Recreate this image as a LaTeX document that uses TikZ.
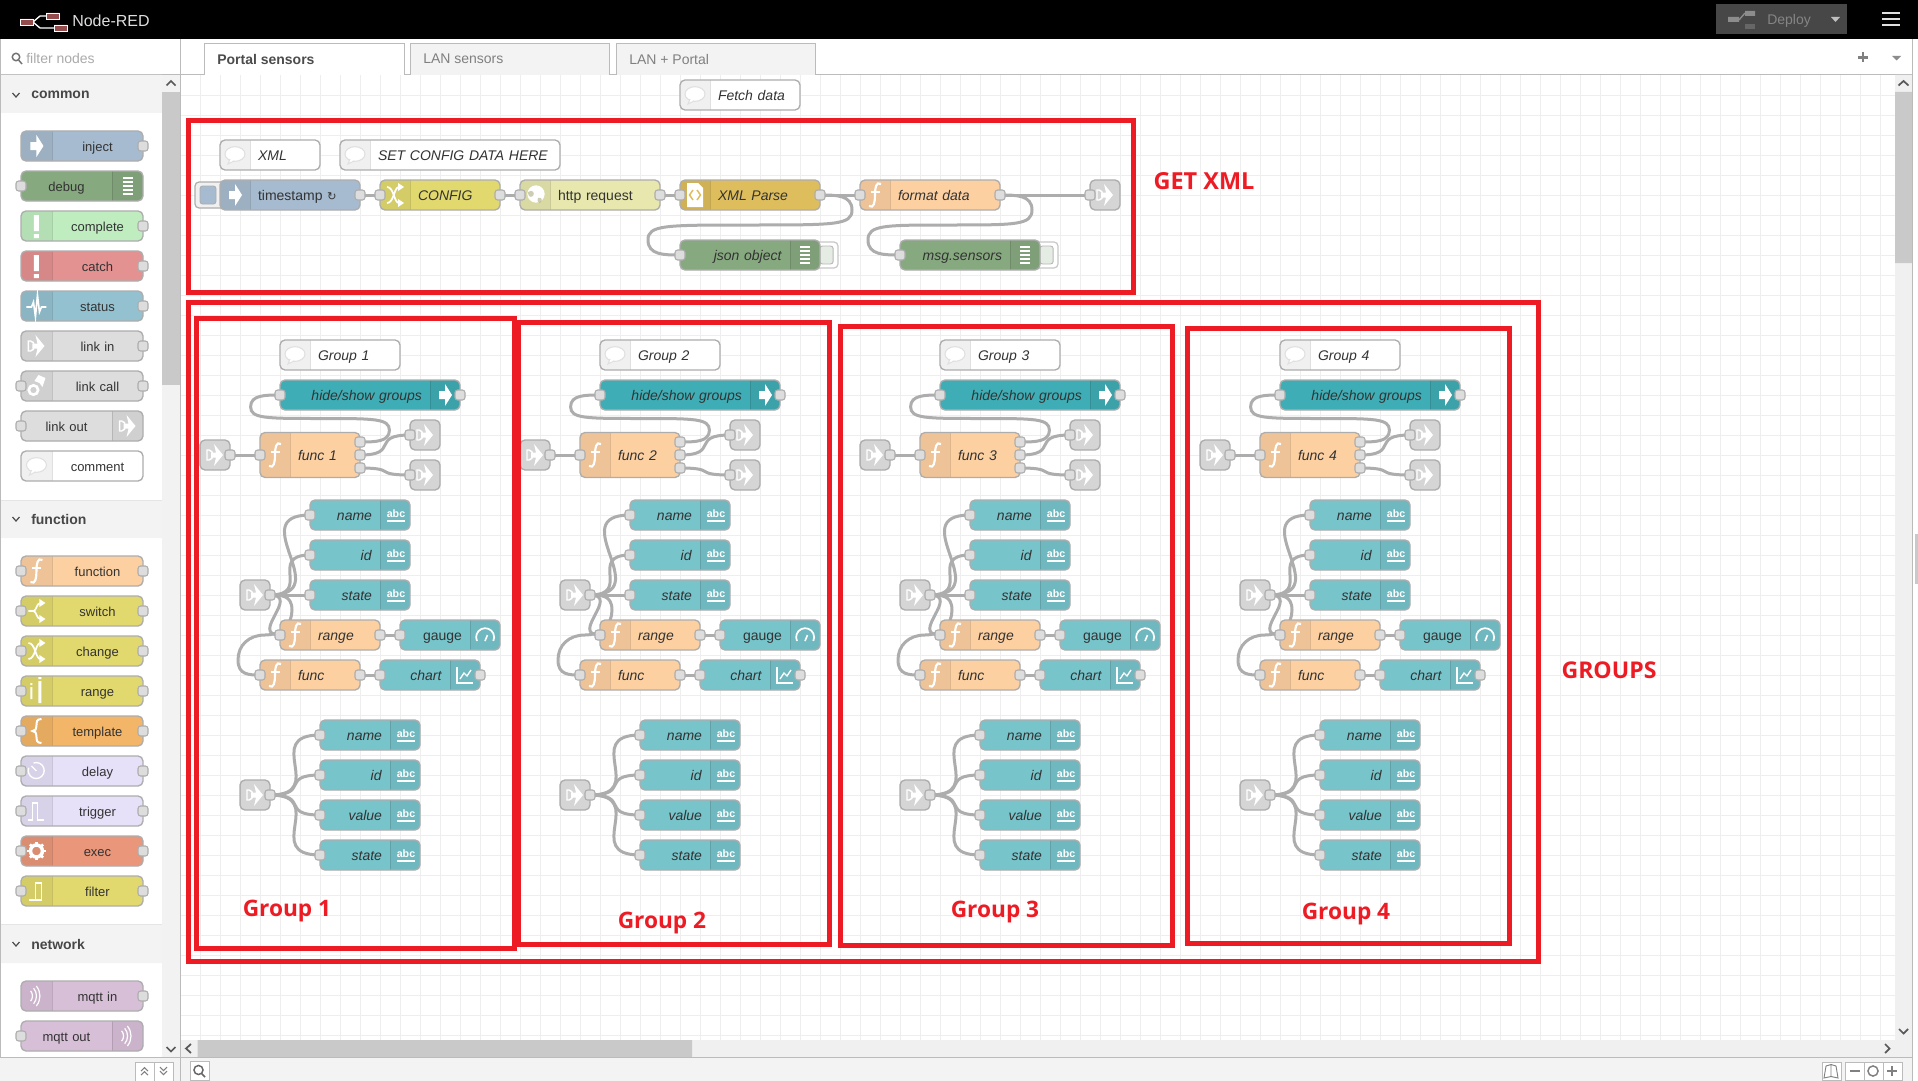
\documentclass[tikz,border=0pt]{standalone}
\usepackage{fontspec}
\setmainfont{Liberation Sans}
\newfontfamily\labelfont{Open Sans}
\newfontfamily\symfont{DejaVu Sans}
\usetikzlibrary{calc,positioning}

\definecolor{cLine}{HTML}{ADADAD}
\definecolor{cText}{HTML}{333333}
\definecolor{cGrid}{HTML}{EEEEEE}
\definecolor{cPanel}{HTML}{F3F3F3}
\definecolor{cBar}{HTML}{C9C9C9}
\definecolor{cBorder}{HTML}{BBBBBB}
\definecolor{cRed}{HTML}{ED1C24}
\definecolor{cInject}{HTML}{A6BBCF}
\definecolor{cDebug}{HTML}{87A980}
\definecolor{cComplete}{HTML}{C0EDC0}
\definecolor{cCatch}{HTML}{E49191}
\definecolor{cStatus}{HTML}{94C1D0}
\definecolor{cLink}{HTML}{DDDDDD}
\definecolor{cLinkB}{HTML}{D5D5D5}
\definecolor{cFunc}{HTML}{FDD0A2}
\definecolor{cChange}{HTML}{E2D96E}
\definecolor{cTemplate}{HTML}{F3B567}
\definecolor{cDelay}{HTML}{E6E0F8}
\definecolor{cExec}{HTML}{E9967A}
\definecolor{cMqtt}{HTML}{D8BFD8}
\definecolor{cHttp}{HTML}{E7E7AE}
\definecolor{cXml}{HTML}{DEBD5C}
\definecolor{cUiText}{HTML}{77C4CB}
\definecolor{cUiCtrl}{HTML}{3FADB5}

\pgfdeclarelayer{gridlayer}
\pgfdeclarelayer{wirelayer}
\pgfsetlayers{gridlayer,wirelayer,main}

\tikzset{
  nrbody/.style={draw=cLine,line width=1pt,rounded corners=3.75pt,minimum height=22.5pt,
    inner sep=0pt,outer sep=0pt,text=cText,text height=8.5pt,text depth=0pt,
    font=\fontsize{10.5}{12}\selectfont},
  palbody/.style={nrbody,font=\fontsize{9.75}{12}\selectfont},
  bandL/.style={path picture={
    \fill[black,fill opacity=.06,sharp corners] (path picture bounding box.north west) rectangle ([xshift=#1]path picture bounding box.south west);
    \draw[black,opacity=.12,line width=.75pt,sharp corners] ([xshift=#1]path picture bounding box.north west) -- ([xshift=#1]path picture bounding box.south west);}},
  bandR/.style={path picture={
    \fill[black,fill opacity=.06,sharp corners] (path picture bounding box.north east) rectangle ([xshift=-#1]path picture bounding box.south east);
    \draw[black,opacity=.12,line width=.75pt,sharp corners] ([xshift=-#1]path picture bounding box.north east) -- ([xshift=-#1]path picture bounding box.south east);}},
  port/.style={draw=cLine,fill=cLink,line width=.8pt,rounded corners=2pt,minimum width=7.5pt,minimum height=7.5pt,inner sep=0pt,outer sep=0pt},
  wireln/.style={draw=cLine,line width=2.25pt},
  redbox/.style={draw=cRed,line width=3.75pt},
  redtext/.style={text=cRed,inner sep=0pt,font=\labelfont\bfseries\fontsize{#1}{20}\selectfont},
  chrome/.style={inner sep=0pt,anchor=west,font=\fontsize{10.5}{12}\selectfont},
  chev/.style={draw=#1,line width=1.3pt},
  chev/.default={black!65},
  btnbox/.style={draw=cBorder,fill=white,line width=.75pt},
  ico/.style={white,line width=1.2pt},
  ico arrow/.pic={\fill[white] (-6,-4)--(0,-4)--(0,-11)--(7,0)--(0,11)--(0,4)--(-6,4)--cycle;},
  ico link/.pic={
    \draw[ico,line width=1.1pt] (-8,-5)--(-6,-5) .. controls (-1,-5) and (-1,5) .. (-6,5)--(-8,5)--cycle;
    \fill[white] (-1,-11)--(8,0)--(-1,11)--(1,2.5)--(-4,2.5)--(-4,-2.5)--(1,-2.5)--cycle;},
  ico func/.pic={
    \draw[ico,line width=1.6pt] (6,-11) .. controls (1,-14) and (0,-7) .. (0,0) .. controls (0,7) and (-1,14) .. (-6,11);
    \draw[ico,line width=1.2pt] (-4,-3)--(5,-3);},
  ico bubble/.pic={
    \filldraw[draw=black!12,fill=white,line width=.8pt] (0,-1) ellipse [x radius=7.5pt,y radius=5.5pt];
    \filldraw[draw=black!12,fill=white,line width=.8pt] (-5,4)--(-7,9)--(-1,6);},
  ico shuffle/.pic={
    \draw[ico,line width=1.3pt] (-8,-8) .. controls (-1,-8) and (-1,8) .. (4,8);
    \draw[ico,line width=1.3pt] (-8,8) .. controls (-1,8) and (-1,-8) .. (4,-8);
    \fill[white] (3,-12)--(9,-8)--(3,-4)--cycle (3,4)--(9,8)--(3,12)--cycle;},
  ico split/.pic={
    \draw[ico,line width=1.3pt] (-8,0)--(-3,0) .. controls (0,0) and (0,-8) .. (4,-8);
    \draw[ico,line width=1.3pt] (-3,0) .. controls (0,0) and (0,8) .. (4,8);
    \fill[white] (3,-12)--(9,-8)--(3,-4)--cycle (3,4)--(9,8)--(3,12)--cycle;},
  ico globe/.pic={
    \fill[white] (1,-1) circle [radius=6.5pt];
    \fill[cHttp!75!black,opacity=.6] (-7,-3) .. controls (-2,-6) and (0,-2) .. (-2,1) .. controls (-5,3) and (-7,1) .. (-7,-3);
    \fill[cHttp!75!black,opacity=.6] (3,3) .. controls (7,2) and (8,5) .. (5,8) .. controls (3,8) and (2,6) .. (3,3);},
  ico xml/.pic={
    \fill[white] (-8,-12)--(3,-12)--(8,-7)--(8,12)--(-8,12)--cycle;
    \draw[cXml,line width=1.1pt] (-2,-5)--(-5.5,0)--(-2,5) (2,-5)--(5.5,0)--(2,5);},
  ico list/.pic={\foreach \ly in {-8,-4,0,4,8} \draw[white,line width=1pt] (-5,\ly)--(5,\ly);},
  ico abc/.pic={
    \node[text=white,inner sep=0pt,text height=5.8pt,text depth=0pt,font=\bfseries\fontsize{8}{8}\selectfont] (-abc) at (1,-1.5) {abc};
    \draw[white,line width=1.1pt] (-8,6)--(10,6);},
  ico gauge/.pic={
    \draw[ico,line width=1.3pt] (-8,6) arc [start angle=205,end angle=-25,radius=6.75pt];
    \draw[ico] (0,6)--(2.5,0);},
  ico chart/.pic={
    \draw[ico,line width=.9pt] (-8,-8)--(-8,8)--(8,8);
    \draw[ico,line width=1pt] (-5,4)--(-1,-2)--(2,1)--(6,-5);},
  ico bang/.pic={\fill[white] (-2.5,-11) rectangle (2.5,5) (-2.5,8) rectangle (2.5,12);},
  ico pulse/.pic={\draw[ico] (-10,1)--(-5,1)--(-3,-4)--(-1,11)--(1,-11)--(3,6)--(5,1)--(10,1);},
  ico call/.pic={
    \fill[white] (2,-11)--(9,-8)--(6,1)--(3,-3)--(-2,-5)--cycle;
    \draw[ico,line width=2pt] (-3,4) circle [radius=3.5pt];},
  ico brace/.pic={
    \draw[ico,line width=1.5pt] (5,-12) .. controls (0,-12) and (0,-9) .. (0,-5) .. controls (0,-2) and (-1,0) .. (-4,0) .. controls (-1,0) and (0,2) .. (0,5) .. controls (0,9) and (0,12) .. (5,12);},
  ico clock/.pic={
    \draw[ico,line width=1pt] (-3,-8) arc [start angle=110,end angle=-200,radius=6pt];
    \draw[ico,line width=1pt] (0,0)--(-5,-5);},
  ico pulsebox/.pic={
    \draw[ico,line width=1.4pt] (-8,9)--(-4,9)--(-4,-8)--(1,-8)--(1,9)--(8,9);},
  ico gear/.pic={
    \draw[white,line width=2.6pt] (0,0) circle [radius=4.5pt];
    \foreach \ga in {0,45,...,315} \draw[white,line width=2pt] (\ga:5pt)--(\ga:7pt);},
  ico step/.pic={
    \draw[ico,line width=1.1pt] (-7,9)--(-1,9)--(-1,-8)--(5,-8)--(5,9)--(-1,9);},
  ico ij/.pic={
    \fill[white] (-6,-4) rectangle (-4,8) (-6,-8) rectangle (-4,-6);
    \fill[white] (2,-10) rectangle (5,12) (2,-14) rectangle (5,-12);},
  ico waves/.pic={
    \foreach \wr in {6pt,9pt,11.6pt}
      \draw[ico,line width=.9pt] (-12,0) ++(-40:\wr) arc [start angle=-40,end angle=40,radius=\wr];},
}

% workspace node, icon band on the left
\newcommand{\flowL}[7][]{%
  \pgfmathsetlengthmacro{\nrw}{#4*0.75}%
  \node[nrbody,bandL=22.5pt,fill=#5,minimum width=\nrw,text width=\nrw,align=left,
    execute at begin node={\hspace*{28.5pt}},#1] (#2) at (#3) {#7};
  \pic at ([xshift=11.25pt]#2.west) {ico #6};
}
% workspace node, icon band on the right
\newcommand{\flowR}[7][]{%
  \pgfmathsetlengthmacro{\nrw}{#4*0.75}%
  \node[nrbody,bandR=22.5pt,fill=#5,minimum width=\nrw,text width=\nrw,align=right,
    execute at end node={\hspace*{28.5pt}},#1] (#2) at (#3) {#7};
  \pic at ([xshift=-11.25pt]#2.east) {ico #6};
}
\newcommand{\linkbox}[2]{%
  \node[nrbody,bandL=0pt,fill=cLinkB,minimum width=22.5pt] (#1) at (#2) {};
  \pic at (#1) {ico link};
}
\newcommand{\portI}[1]{\node[port] (#1in) at (#1.west) {};}
\newcommand{\portO}[1]{\node[port] (#1out) at (#1.east) {};}

% forward wire
\newcommand{\wire}[2]{%
  \begin{pgfonlayer}{wirelayer}
  \draw[wireln] let \p1=($(#2.center)-(#1.center)$),\n1={min(56.25,0.75*veclen(\x1,\y1))*1pt} in
    (#1.center) .. controls +(\n1,0) and +(-\n1,0) .. (#2.center);
  \end{pgfonlayer}
}
% wire going back to the left
\newcommand{\wireback}[2]{%
  \pgfpointanchor{#1}{center}\pgfgetlastxy{\wbox}{\wboy}%
  \pgfpointanchor{#2}{center}\pgfgetlastxy{\wbdx}{\wbdy}%
  \pgfmathsetmacro\wbox{\wbox}\pgfmathsetmacro\wboy{\wboy}%
  \pgfmathsetmacro\wbdx{\wbdx}\pgfmathsetmacro\wbdy{\wbdy}%
  \pgfmathsetmacro\wbw{\wbdx-\wbox}\pgfmathsetmacro\wbh{\wbdy-\wboy}%
  \pgfmathsetmacro\wbs{ifthenelse(\wbh>0,1,-1)}%
  \pgfmathsetmacro\wbsc{0.4-0.2*max(0,(75-min(abs(\wbw),abs(\wbh)))/75)}%
  \pgfmathsetmacro\wbmx{\wbdx-\wbw/2}\pgfmathsetmacro\wbmy{\wbdy-\wbh/2}%
  \pgfmathsetmacro\wbya{(\wbdy+\wbmy)/2}%
  \pgfmathsetmacro\wbtx{\wbox+75*\wbsc}\pgfmathsetmacro\wbbx{\wbdx-75*\wbsc}%
  \pgfmathsetmacro\wbty{\wbs*min(\wbs*(\wbya-\wbh/2),\wbs*(\wboy+\wbs*11.25))}%
  \pgfmathsetmacro\wbby{\wbs*max(\wbs*\wbya,\wbs*(\wbdy-\wbs*11.25))}%
  \pgfmathsetmacro\wbxa{(\wbox+\wbtx)/2}\pgfmathsetmacro\wbxb{(\wbdx+\wbbx)/2}%
  \pgfmathsetmacro\wbca{\wbs*max(\wbs*\wboy,\wbs*(\wbty-\wbs*11.25))}%
  \pgfmathsetmacro\wbcb{\wbs*min(\wbs*\wbmy,\wbs*(\wbty+\wbs*11.25))}%
  \pgfmathsetmacro\wbcc{\wbs*max(\wbs*\wbmy,\wbs*(\wbby-\wbs*11.25))}%
  \pgfmathsetmacro\wbcd{\wbs*min(\wbs*\wbdy,\wbs*(\wbby+\wbs*11.25))}%
  \begin{pgfonlayer}{wirelayer}
  \draw[wireln] (#1.center)
    .. controls (\wbxa pt,\wboy pt) and (\wbtx pt,\wbca pt) .. (\wbtx pt,\wbty pt)
    .. controls (\wbtx pt,\wbcb pt) and (\wbxa pt,\wbmy pt) .. (\wbmx pt,\wbmy pt)
    .. controls (\wbxb pt,\wbmy pt) and (\wbbx pt,\wbcc pt) .. (\wbbx pt,\wbby pt)
    .. controls (\wbbx pt,\wbcd pt) and (\wbxb pt,\wbdy pt) .. (#2.center);
  \end{pgfonlayer}
}

\begin{document}
\begin{tikzpicture}[x=0.75pt,y=-0.75pt]
\useasboundingbox (0,0) rectangle (1918,1081);

% canvas and grid
\begin{pgfonlayer}{gridlayer}
\fill[white] (0,0) rectangle (1918,1081);
\foreach \gx in {200,220,...,1880} \draw[cGrid,line width=.9pt] (\gx+.5,75) -- (\gx+.5,1040);
\foreach \gy in {96,116,...,1036} \draw[cGrid,line width=.9pt] (181,\gy-.3) -- (1895,\gy-.3);
\end{pgfonlayer}

% header
\fill[black] (0,0) rectangle (1918,39);
\draw[white,line width=1pt] (46,16) -- (40,16) -- (33,22) -- (40,28) -- (54,28);
\fill[black!60!red!70!white,draw=white,line width=.4pt] (20,19) rectangle (33,25) (46,13) rectangle (59,19) (54,25) rectangle (67,31);
\node[chrome,text=black!13,font=\fontsize{12}{12}\selectfont] (appname) at (72,21) {Node-RED};
\fill[black!72] (1716,4) rectangle (1847,34);
\fill[black!45] (1728,17) rectangle (1739,22) (1745,11) rectangle (1755,16);
\draw[black!45,line width=1pt] (1739,20) -- (1745,13);
\fill[black!60] (1745,24) rectangle (1755,29);
\node[chrome,text=black!48] (deploy) at (1767,21) {Deploy};
\fill[black!25] (1831,17) -- (1840,17) -- (1835.5,22) -- cycle;
\foreach \my in {13,19,25} \draw[black!12,line width=2.2pt] (1882,\my) -- (1900,\my);

% tab bar
\draw[cBorder,line width=.75pt] (181,74.5) -- (1912,74.5);
\fill[white,draw=cBorder,line width=.75pt] (204,75) -- (204,43.5) -- (404,43.5) -- (404,75);
\fill[cPanel,draw=cBorder,line width=.75pt] (410,75) -- (410,43.5) -- (609,43.5) -- (609,75);
\fill[cPanel,draw=cBorder,line width=.75pt] (616,75) -- (616,43.5) -- (815,43.5) -- (815,75);
\node[chrome,text=black!70,font=\bfseries\fontsize{10.5}{12}\selectfont] (tabA) at (217,59) {Portal sensors};
\node[chrome,text=black!50] (tabB) at (423,59) {LAN sensors};
\node[chrome,text=black!50] (tabC) at (629,59) {LAN + Portal};
\draw[black!50,line width=1.6pt] (1858,57.5) -- (1868,57.5) (1863,52.5) -- (1863,62.5);
\fill[black!45] (1892,56) -- (1901,56) -- (1896.5,60.5) -- cycle;

% sidebar
\fill[white] (0,39) rectangle (180,1057);
\draw[cBorder,line width=.75pt] (.5,39) -- (.5,1057) (180,39) -- (180,1057) (0,74.5) -- (180,74.5);
\draw[black!55,line width=1.1pt] (16,57) circle [radius=2.8pt] (19,60.5) -- (22,64);
\node[chrome,text=black!33] (filter) at (26,58) {filter nodes};
\fill[cPanel] (1,75) rectangle (162,113) (1,500) rectangle (162,538) (1,924) rectangle (162,963);
\draw[black!10,line width=.75pt] (1,500) -- (162,500) (1,924) -- (162,924);
\fill[black!5] (162,75) rectangle (180,1057);
\fill[cBar] (162,92) rectangle (180,385);
\foreach \ccy/\cname/\clab in {95/catA/common,519/catB/function,944/catC/network}{
  \draw[chev={black!70},line width=.9pt] (12.5,\ccy-2) -- (16,\ccy+2) -- (19.5,\ccy-2);
  \node[chrome,text=black!72,font=\bfseries\fontsize{10.5}{12}\selectfont] (\cname) at (31,\ccy) {\clab};
}
\draw[chev] (166.5,85.5) -- (171,81) -- (175.5,85.5);
\draw[chev] (166.5,1047) -- (171,1051.5) -- (175.5,1047);

% palette
\foreach \nm/\py/\lab/\col/\ic/\hasin/\hasout in {
  inject/146/inject/cInject/arrow/0/1,
  complete/226/complete/cComplete/bang/0/1,
  catch/266/catch/cCatch/bang/0/1,
  status/306/status/cStatus/pulse/0/1,
  linkin/346/link in/cLink/link/0/1,
  linkcall/386/link call/cLink/call/1/1,
  comment/466/comment/white/bubble/0/0,
  function/571/function/cFunc/func/1/1,
  switch/611/switch/cChange/split/1/1,
  change/651/change/cChange/shuffle/1/1,
  range/691/range/cChange/ij/1/1,
  template/731/template/cTemplate/brace/1/1,
  delay/771/delay/cDelay/clock/1/1,
  trigger/811/trigger/cDelay/pulsebox/1/1,
  exec/851/exec/cExec/gear/1/1,
  filter/891/filter/cChange/step/1/1,
  mqttin/996/mqtt in/cMqtt/waves/0/1}{
  \node[palbody,bandL=23.25pt,fill=\col,minimum width=91.5pt,text width=91.5pt,align=center,
    execute at begin node={\hspace*{23.25pt}}] (pal\nm) at (82,\py) {\lab};
  \pic at ([xshift=11.6pt]pal\nm.west) {ico \ic};
  \ifnum\hasin=1 \portI{pal\nm}\fi
  \ifnum\hasout=1 \portO{pal\nm}\fi
}
\foreach \nm/\py/\lab/\col/\ic in {
  debug/186/debug/cDebug/list,
  linkout/426/link out/cLink/link,
  mqttout/1036/mqtt out/cMqtt/waves}{
  \node[palbody,bandR=23.25pt,fill=\col,minimum width=91.5pt,text width=91.5pt,align=center,
    execute at end node={\hspace*{23.25pt}}] (pal\nm) at (82,\py) {\lab};
  \pic at ([xshift=-11.6pt]pal\nm.east) {ico \ic};
  \portI{pal\nm}
}

% footer and scroll bars
\fill[black!6] (181,1040) rectangle (1912,1057) (1895,75) rectangle (1912,1040);
\fill[cBar] (1895,92) rectangle (1912,263) (197.5,1040) rectangle (692,1057);
\draw[chev] (1898.5,85.5) -- (1903.5,81) -- (1908.5,85.5);
\draw[chev] (1899,1029) -- (1903.5,1033.5) -- (1908,1029);
\draw[chev] (191,1044) -- (186,1048.5) -- (191,1053);
\draw[chev] (1885,1044) -- (1889.5,1048.5) -- (1885,1053);
\fill[cPanel] (0,1057) rectangle (1912,1081);
\draw[cBorder,line width=.75pt] (0,1057) -- (1912,1057) (180,1057) -- (180,1081) (1912.5,39) -- (1912.5,1081);
\fill[cBar] (1915,534) rectangle (1918,584);
\draw[btnbox] (135,1062) rectangle (154,1081) (154,1062) rectangle (173,1081);
\draw[black!50,line width=.8pt] (141,1071) -- (144.5,1067.5) -- (148,1071) (141,1075) -- (144.5,1071.5) -- (148,1075);
\draw[black!50,line width=.8pt] (160,1067) -- (163.5,1070.5) -- (167,1067) (160,1071) -- (163.5,1074.5) -- (167,1071);
\draw[btnbox] (190,1061.5) rectangle (209,1080);
\draw[black!60,line width=1.1pt] (198.5,1070) circle [radius=3.4pt] (202,1074) -- (205,1077);
\draw[btnbox] (1822,1062) rectangle (1841,1080.5);
\draw[black!50,line width=.7pt] (1826,1066) -- (1831,1064.5) -- (1836,1066) -- (1838,1078) -- (1831,1076.5) -- (1824,1078) -- cycle (1831,1064.5) -- (1831,1076.5);
\draw[btnbox] (1845,1062) rectangle (1864,1080.5) (1864,1062) rectangle (1883,1080.5) (1883,1062) rectangle (1902,1080.5);
\draw[black!50,line width=1.6pt] (1850,1071) -- (1860,1071) (1887,1071) -- (1897,1071) (1892,1066) -- (1892,1076);
\draw[black!50,line width=1.1pt] (1873,1071) circle [radius=3.8pt];

% fetch data
\flowL{fetch}{740,95}{120}{white}{bubble}{\textit{Fetch data}}
\flowL{xmlNote}{270,155}{100}{white}{bubble}{\textit{XML}}
\flowL{setNote}{450,155}{220}{white}{bubble}{\textit{SET CONFIG DATA HERE}}

\node[draw=cLine,fill=black!6,line width=.9pt,rounded corners=3pt,minimum width=22.5pt,minimum height=19.5pt,inner sep=0pt] (tsBtn) at (210,195) {};
\node[draw=cLine,fill=cInject,line width=.7pt,rounded corners=2pt,minimum width=12pt,minimum height=13.5pt,inner sep=0pt] (tsBtnIn) at (208,195) {};
\flowL{ts}{290,195}{140}{cInject}{arrow}{timestamp {\symfont\fontsize{8.5}{10}\selectfont ↻}}
\flowL{cfg}{440,195}{120}{cChange}{shuffle}{\textit{CONFIG}}
\flowL{http}{590,195}{140}{cHttp}{globe}{http request}
\flowL{xml}{750,195}{140}{cXml}{xml}{\textit{XML Parse}}
\flowL{fmt}{930,195}{140}{cFunc}{func}{\textit{format data}}
\linkbox{lkOut}{1105,195}

\node[draw=black!22,fill=white,line width=.9pt,rounded corners=3pt,minimum width=21pt,minimum height=19.5pt,inner sep=0pt] (jsTog) at (824,255) {};
\node[draw=black!28,fill=cDebug!22,line width=.7pt,rounded corners=2pt,minimum width=10pt,minimum height=13.5pt,inner sep=0pt] (jsTogIn) at (826.5,255) {};
\node[draw=black!22,fill=white,line width=.9pt,rounded corners=3pt,minimum width=21pt,minimum height=19.5pt,inner sep=0pt] (msgTog) at (1044,255) {};
\node[draw=black!28,fill=cDebug!22,line width=.7pt,rounded corners=2pt,minimum width=10pt,minimum height=13.5pt,inner sep=0pt] (msgTogIn) at (1046.5,255) {};
\flowR{json}{750,255}{140}{cDebug}{list}{\textit{json object}}
\flowR{msgS}{970,255}{140}{cDebug}{list}{\textit{msg.sensors}}

\portO{ts}\portI{cfg}\portO{cfg}\portI{http}\portO{http}\portI{xml}\portO{xml}\portI{fmt}\portO{fmt}
\portI{lkOut}\portI{json}\portI{msgS}
\wire{tsout}{cfgin}
\wire{cfgout}{httpin}
\wire{httpout}{xmlin}
\wire{xmlout}{fmtin}
\wire{fmtout}{lkOutin}
\wireback{xmlout}{jsonin}
\wireback{fmtout}{msgSin}

% groups
\foreach \g/\gs in {1/0,2/320,3/660,4/1000}{
\begin{scope}[xshift=\gs*0.75pt]
\flowL{note\g}{340,355}{120}{white}{bubble}{\textit{Group \g}}
\flowR{ctrl\g}{370,395}{180}{cUiCtrl}{arrow}{\textit{hide/show groups}}
\node[nrbody,bandL=22.5pt,fill=cFunc,minimum width=75pt,minimum height=33.75pt,text width=75pt,align=left,
  execute at begin node={\hspace*{28.5pt}}] (main\g) at (310,455) {\textit{func \g}};
\pic at ([xshift=11.25pt]main\g.west) {ico func};
\linkbox{lkA\g}{215,455}
\linkbox{lkB\g}{425,435}
\linkbox{lkC\g}{425,475}
\portI{ctrl\g}\portO{ctrl\g}\portI{main\g}\portO{lkA\g}\portI{lkB\g}\portI{lkC\g}
\node[port] (main\g a) at (360,442) {};
\node[port] (main\g b) at (360,455) {};
\node[port] (main\g c) at (360,468) {};
\wire{lkA\g out}{main\g in}
\wireback{main\g a}{ctrl\g in}
\wire{main\g b}{lkB\g in}
\wire{main\g c}{lkC\g in}

\linkbox{lkD\g}{255,595}
\portO{lkD\g}
\foreach \tn/\ty/\tl in {name/515/name,id/555/id,state/595/state}{
  \flowR{\tn\g}{360,\ty}{100}{cUiText}{abc}{\textit{\tl}}
  \portI{\tn\g}
  \wire{lkD\g out}{\tn\g in}
}
\flowL{range\g}{330,635}{100}{cFunc}{func}{\textit{range}}
\flowR{gauge\g}{450,635}{100}{cUiText}{gauge}{gauge}
\flowL{calc\g}{310,675}{100}{cFunc}{func}{\textit{func}}
\flowR{chart\g}{430,675}{100}{cUiText}{chart}{\textit{chart}}
\portI{range\g}\portO{range\g}\portI{gauge\g}\portI{calc\g}\portO{calc\g}\portI{chart\g}\portO{chart\g}
\wire{lkD\g out}{range\g in}
\wireback{lkD\g out}{calc\g in}
\wire{range\g out}{gauge\g in}
\wire{calc\g out}{chart\g in}

\linkbox{lkE\g}{255,795}
\portO{lkE\g}
\foreach \tn/\ty/\tl in {nameB/735/name,idB/775/id,valB/815/value,stateB/855/state}{
  \flowR{\tn\g}{370,\ty}{100}{cUiText}{abc}{\textit{\tl}}
  \portI{\tn\g}
  \wire{lkE\g out}{\tn\g in}
}
\end{scope}
}

% red marks
\draw[redbox] (188.5,120.5) rectangle (1133.5,292.5);
\draw[redbox] (188.5,302.5) rectangle (1538.5,961.5);
\draw[redbox] (196,318.5) rectangle (514,948.5);
\draw[redbox] (518.5,322.5) rectangle (829,944.5);
\draw[redbox] (840.5,326.5) rectangle (1172.5,945.5);
\draw[redbox] (1187.5,328.5) rectangle (1509.5,943.5);
\node[redtext=17.6] (getxml) at (1204,181) {GET XML};
\node[redtext=17.3] (groups) at (1609,670) {GROUPS};
\node[redtext=17] (markA) at (287,911) {Group 1};
\node[redtext=17] (markB) at (662,923.5) {Group 2};
\node[redtext=17] (markC) at (995,912.5) {Group 3};
\node[redtext=17] (markD) at (1346,914.5) {Group 4};
\end{tikzpicture}
\end{document}
